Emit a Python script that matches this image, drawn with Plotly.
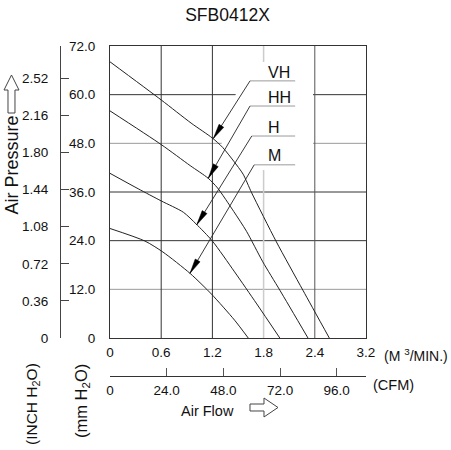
import math
import plotly.graph_objects as go

# ---------------- data ----------------
chart_title = "SFB0412X"
curve_names = ["VH", "HH", "H", "M"]
vh_flow = [0, 0.60, 0.95, 1.20, 1.32, 1.45, 1.56, 1.66, 1.95, 2.26, 2.57]
vh_pres = [68.1, 58.7, 53.0, 49.3, 47.0, 43.6, 40.4, 35.8, 23.7, 11.8, 0]
hh_flow = [0, 0.60, 0.94, 1.15, 1.26, 1.45, 1.60, 1.79, 1.99, 2.32]
hh_pres = [56.0, 47.7, 42.5, 39.4, 37.0, 31.2, 26.3, 18.8, 11.8, 0]
h_flow = [0, 0.33, 0.60, 0.86, 1.01, 1.20, 1.46, 1.72, 1.99]
h_pres = [40.6, 36.8, 33.8, 31.0, 28.1, 23.9, 16.3, 8.4, 0]
m_flow = [0, 0.41, 0.62, 0.94, 1.19, 1.46, 1.62]
m_pres = [27.0, 23.9, 21.2, 15.9, 10.8, 4.4, 0]

# callout labels: label anchor (x, y), leader start (x, y), arrow tip (x, y)
label_x = [1.83, 1.83, 1.83, 1.83]
label_y = [65.4, 59.3, 51.9, 44.9]
leader_x0 = [1.641, 1.641, 1.661, 1.690]
leader_x1 = [2.17, 2.17, 2.17, 2.17]
leader_y = [63.4, 57.2, 49.8, 42.7]
tip_x = [1.211, 1.152, 1.016, 0.9375]
tip_y = [49.2, 39.4, 27.9, 15.95]

x_ticks = [0, 0.6, 1.2, 1.8, 2.4, 3.0]
x_ticktext = ["0", "0.6", "1.2", "1.8", "2.4", "3.2"]
y_ticks = [0, 12, 24, 36, 48, 60, 72]
y_ticktext = ["0", "12.0", "24.0", "36.0", "48.0", "60.0", "72.0"]
inch_ticks = [0, 0.36, 0.72, 1.08, 1.44, 1.80, 2.16, 2.52]
inch_ticktext = ["0", "0.36", "0.72", "1.08", "1.44", "1.80", "2.16", "2.52"]
cfm_ticks = [0, 24, 48, 72, 96]
cfm_ticktext = ["0", "24.0", "48.0", "72.0", "96.0"]
grid_h = [12, 24, 36, 48, 60]
grid_h_colors = ["#9a9a9a", "#333333", "#333333", "#9a9a9a", "#333333"]
grid_v = [0.6, 1.2, 1.8, 2.4]
grid_v_colors = ["#333333", "#333333", "#cccccc", "#555555"]

# ---------------- geometry ----------------
W, H = 451, 450
ML, MR, MT, MB = 20, 85, 46, 20
PW, PH = W - ML - MR, H - MT - MB
PLOT_L, PLOT_R, PLOT_T, PLOT_B = 110, 366, 46, 338
XMAX, YMAX = 3.0, 72.0
CFM_MAX = 108.4
kx = (PLOT_R - PLOT_L) / XMAX
ky = (PLOT_B - PLOT_T) / YMAX


def pxx(px):
    return (px - ML) / PW


def pxy(py):
    return (H - MB - py) / PH


xdom = [pxx(PLOT_L), 1.0]
ydom = [pxy(PLOT_B), 1.0]

REG = "Liberation Sans, Arial, Helvetica, sans-serif"
INK = "#222222"

fig = go.Figure()
for name, xs, ys in zip(curve_names, [vh_flow, hh_flow, h_flow, m_flow],
                        [vh_pres, hh_pres, h_pres, m_pres]):
    fig.add_trace(go.Scatter(x=xs, y=ys, mode="lines", name=name,
                             line=dict(color=INK, width=1, shape="spline", smoothing=0.7),
                             showlegend=False, hoverinfo="skip"))
# helper traces so the secondary axes get drawn
fig.add_trace(go.Scatter(x=[0], y=[0], xaxis="x2", yaxis="y", mode="markers",
                         marker=dict(opacity=0), showlegend=False, hoverinfo="skip"))
fig.add_trace(go.Scatter(x=[0], y=[0], xaxis="x", yaxis="y2", mode="markers",
                         marker=dict(opacity=0), showlegend=False, hoverinfo="skip"))

shapes = []
for v, c in zip(grid_h, grid_h_colors):
    shapes.append(dict(type="line", xref="x", yref="y", x0=0, x1=XMAX, y0=v, y1=v,
                       line=dict(color=c, width=1), layer="below"))
for v, c in zip(grid_v, grid_v_colors):
    shapes.append(dict(type="line", xref="x", yref="y", x0=v, x1=v, y0=0, y1=YMAX,
                       line=dict(color=c, width=1.5 if c == "#cccccc" else 1), layer="below"))
# white callout area behind labels
poly = [(245, 62), (313, 62), (313, 170), (214, 170)]
path = "M " + " L ".join(f"{(px - PLOT_L) / kx:.4f},{(PLOT_B - py) / ky:.4f}" for px, py in poly) + " Z"
shapes.append(dict(type="path", xref="x", yref="y", path=path, fillcolor="white",
                   line=dict(width=0), layer="below"))

# leaders and arrowheads
for i in range(4):
    shapes.append(dict(type="line", xref="x", yref="y", x0=leader_x0[i], x1=leader_x1[i],
                       y0=leader_y[i], y1=leader_y[i], line=dict(color="#9a9a9a", width=1)))
    shapes.append(dict(type="line", xref="x", yref="y", x0=leader_x0[i], y0=leader_y[i],
                       x1=tip_x[i], y1=tip_y[i], line=dict(color=INK, width=0.9)))
    dx = (tip_x[i] - leader_x0[i]) * kx
    dy = (tip_y[i] - leader_y[i]) * ky
    n = math.hypot(dx, dy)
    ux, uy = dx / n, dy / n
    L, w = 15, 2.8
    bx, by = -ux * L, -uy * L
    p1 = (bx - uy * w, by + ux * w)
    p2 = (bx + uy * w, by - ux * w)
    pts = [(0, 0), p1, p2]
    hp = "M " + " L ".join(f"{tip_x[i] + a / kx:.4f},{tip_y[i] + b / ky:.4f}" for a, b in pts) + " Z"
    shapes.append(dict(type="path", xref="x", yref="y", path=hp, fillcolor="black",
                       line=dict(color="black", width=0.5)))


# hollow block arrows (decoration) in pixel terms -> paper
def arrow_path(pts):
    return "M " + " L ".join(f"{pxx(a):.4f},{pxy(b):.4f}" for a, b in pts) + " Z"


right_arrow = [(250, 404), (264, 404), (264, 398), (278, 407.5), (264, 417), (264, 411), (250, 411)]
up_arrow = [(8, 113), (8, 90), (4, 90), (11.5, 75), (19, 90), (15, 90), (15, 113)]
for pts in (right_arrow, up_arrow):
    shapes.append(dict(type="path", xref="paper", yref="paper", path=arrow_path(pts),
                       fillcolor="white", line=dict(color="#444444", width=1)))

annotations = []
for i, nm in enumerate(curve_names):
    annotations.append(dict(x=label_x[i], y=label_y[i], xref="x", yref="y", text=nm,
                            showarrow=False, xanchor="left", yanchor="middle",
                            font=dict(family=REG, size=16, color="#111")))

side_texts = [
    ("Air Pressure", 11.5, 165, -90, "center", 18),
    ("(INCH H<sub>2</sub>O)", 32, 404, -90, "center", 15.5),
    ("(mm H<sub>2</sub>O)", 82, 401, -90, "center", 16.5),
    ("Air Flow", 208, 411, 0, "center", 14.5),
    ("(M <sup>3</sup>/MIN.)", 450, 355, 0, "right", 14),
    ("(CFM)", 393, 385, 0, "center", 14.5),
]
for txt, px, py, ang, xa, sz in side_texts:
    annotations.append(dict(x=pxx(px), y=pxy(py), xref="paper", yref="paper", text=txt,
                            showarrow=False, textangle=ang, xanchor=xa, yanchor="middle",
                            font=dict(family=REG, size=sz, color="#111")))

tickfont = dict(family=REG, size=13.5, color="#111")
fig.update_layout(
    width=W, height=H, margin=dict(l=ML, r=MR, t=MT, b=MB, autoexpand=False),
    paper_bgcolor="white", plot_bgcolor="white",
    title=dict(text=chart_title, x=227.5 / W, y=1 - 15 / H, xanchor="center", yanchor="middle",
               font=dict(family=REG, size=17.5, color="#111")),
    xaxis=dict(domain=xdom, range=[0, XMAX], tickvals=x_ticks, ticktext=x_ticktext,
               showgrid=False, zeroline=False, showline=True, mirror=True,
               linecolor="#333", linewidth=1, ticks="", tickfont=tickfont,
               ticklabelstandoff=2, fixedrange=True),
    yaxis=dict(domain=ydom, range=[0, YMAX], tickvals=y_ticks, ticktext=y_ticktext,
               showgrid=False, zeroline=False, showline=True, mirror=True,
               linecolor="#333", linewidth=1, ticks="", tickfont=tickfont,
               ticklabelstandoff=11, fixedrange=True),
    xaxis2=dict(domain=xdom, overlaying="x", anchor="free", position=pxy(375.7), side="bottom",
                range=[0, CFM_MAX], tickvals=cfm_ticks, ticktext=cfm_ticktext,
                showgrid=False, zeroline=False, showline=True, linecolor="#333",
                ticks="inside", ticklen=8, tickcolor="#555", tickfont=tickfont,
                ticklabelstandoff=2, fixedrange=True),
    yaxis2=dict(domain=ydom, overlaying="y", anchor="free", position=pxx(60), side="left",
                range=[0, YMAX / 25.4], tickvals=inch_ticks, ticktext=inch_ticktext,
                showgrid=False, zeroline=False, showline=True, linecolor="#444",
                ticks="inside", ticklen=8, tickcolor="#444", tickfont=tickfont,
                ticklabelstandoff=9, fixedrange=True),
    shapes=shapes, annotations=annotations,
)

fig.write_html("out.html")
